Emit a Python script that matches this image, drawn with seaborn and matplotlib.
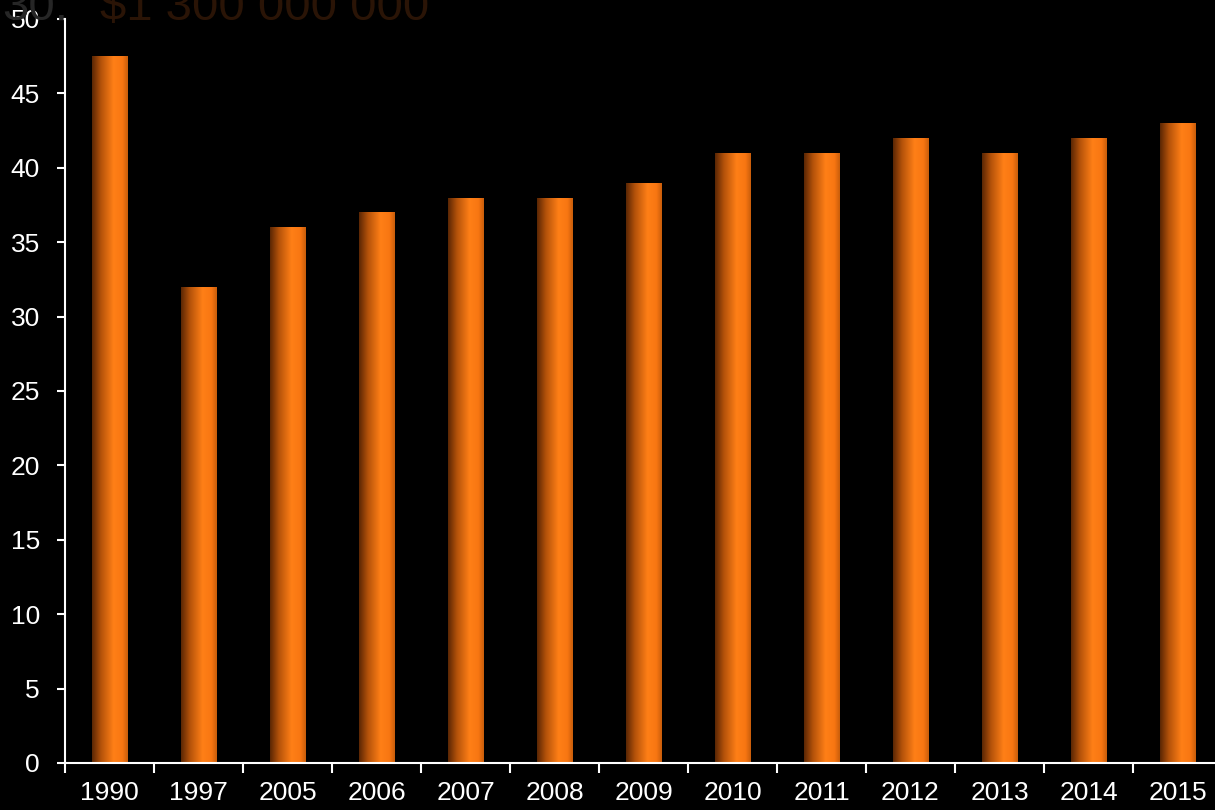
import numpy as np
import pandas as pd
import matplotlib
matplotlib.use("Agg")
import matplotlib.pyplot as plt
from matplotlib.colors import LinearSegmentedColormap
import seaborn as sns

years = ["1990", "1997", "2005", "2006", "2007", "2008", "2009",
         "2010", "2011", "2012", "2013", "2014", "2015"]
values = [47.5, 32, 36, 37, 38, 38, 39, 41, 41, 42, 41, 42, 43]
yticks = [0, 5, 10, 15, 20, 25, 30, 35, 40, 45, 50]

sns.set_theme(style="dark")
plt.rcParams['font.family'] = ['Liberation Sans', 'DejaVu Sans']

df = pd.DataFrame({"year": years, "value": values})

fig = plt.figure(figsize=(12.15, 8.1), dpi=100, facecolor="black")
ax = fig.add_axes([65/1215, 47/810, 1157/1215, 744/810])
ax.set_facecolor("black")

sns.barplot(data=df, x="year", y="value", ax=ax, width=0.40,
            color="#ff7d14", edgecolor="#4a2004", linewidth=0.6, saturation=1)

cmap = LinearSegmentedColormap.from_list(
    "bar", [(0.0, "#5a2604"), (0.25, "#b4520a"), (0.6, "#ff7f17"),
            (0.85, "#f87612"), (1.0, "#c85d0b")])
grad = np.linspace(0, 1, 256).reshape(1, -1)
for p in ax.patches:
    x0, y0 = p.get_x(), p.get_y()
    w, h = p.get_width(), p.get_height()
    im = ax.imshow(grad, cmap=cmap, aspect="auto",
                   extent=(x0, x0 + w, y0, y0 + h), zorder=p.get_zorder() + 0.1,
                   interpolation="bilinear")
    im.set_clip_path(p)

ax.set_xlim(-0.5, len(years) - 0.5)
ax.set_ylim(0, 50)
ax.set_yticks(yticks)
ax.set_xlabel("")
ax.set_ylabel("")
ax.grid(False)

for s in ["top", "right"]:
    ax.spines[s].set_visible(False)
for s in ["left", "bottom"]:
    ax.spines[s].set_visible(True)
    ax.spines[s].set_color("white")
    ax.spines[s].set_linewidth(1.5)

ax.tick_params(axis="y", colors="white", labelsize=19, length=6, width=1.5,
               direction="out", pad=12, left=True)
ax.tick_params(axis="x", which="major", colors="white", labelsize=19, length=0, pad=13)
ax.set_xticks(np.arange(-0.5, len(years) + 0.5, 1), minor=True)
ax.tick_params(axis="x", which="minor", colors="white", length=7, width=1.5,
               direction="out", bottom=True)

# faint, cut-off heading behind the top of the chart
fig.text(2/1215, 1 - 20/810, "30:", color="#262626", fontsize=34, va="baseline",
         ha="left", zorder=0.5)
fig.text(100/1215, 1 - 20/810, "$1 300 000 000", color="#2a1406", fontsize=34,
         va="baseline", ha="left", zorder=0.5)

fig.savefig("out.png", dpi=100, facecolor="black")
